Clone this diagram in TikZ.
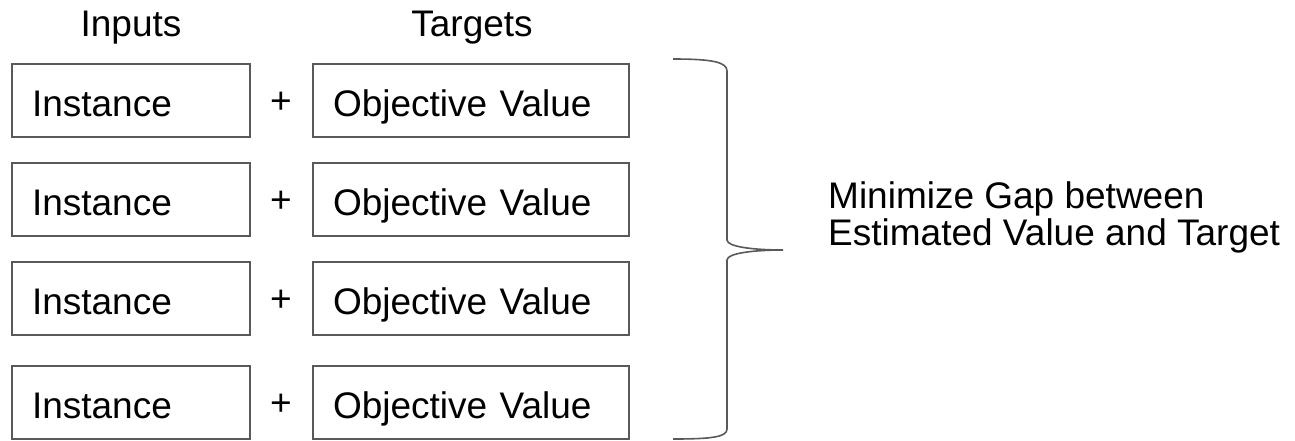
\documentclass[tikz,border=0pt]{standalone}
\usepackage{fontspec}
\setmainfont{Liberation Sans}
\definecolor{edge}{RGB}{89,89,89}
\begin{document}
\begin{tikzpicture}[x=1pt,y=-1pt,
  every node/.style={font=\fontsize{37}{37}\selectfont, text=black},
  cell/.style={draw=edge, line width=1.6pt, rectangle, minimum height=73pt,
    inner xsep=20pt, inner ysep=0pt, align=left, text height=34pt, text depth=2pt},
  instbox/.style={cell, text width=198pt},
  objbox/.style={cell, text width=276pt},
  plus/.style={inner sep=0pt},
  bracepath/.style={draw=edge, line width=1.6pt}]
\useasboundingbox (0,0) rectangle (1295,440);

% column headings
\node[anchor=base] (hin) at (131,36) {Inputs};
\node[anchor=base] (htg) at (472,36) {Targets};

% four rows of instance + objective value
\foreach \r/\yc in {1/100.5, 2/199.5, 3/298.5, 4/402.5} {
  \node[instbox] (inst\r) at (131,\yc) {Instance};
  \node[objbox] (obj\r) at (471,\yc) {Objective Value};
  \node[plus, anchor=base] (plus\r) at (281,\yc+13) {+};
}

% curly brace gathering all rows
\coordinate (btop) at (673,59);
\coordinate (btip) at (783,250);
\coordinate (bbot) at (673,439);
\draw[bracepath] (btop) .. controls (712,59) and (727,62) .. (727,71)
  -- (727,240) .. controls (727,247) and (755,250) .. (btip)
  .. controls (755,250) and (727,253) .. (727,260)
  -- (727,429) .. controls (727,437) and (712,439) .. (bbot);

% objective description
\node[anchor=base west, align=left, inner sep=0pt] (goal) at (828,245)
  {Minimize Gap between\\Estimated Value and Target};
\end{tikzpicture}
\end{document}
